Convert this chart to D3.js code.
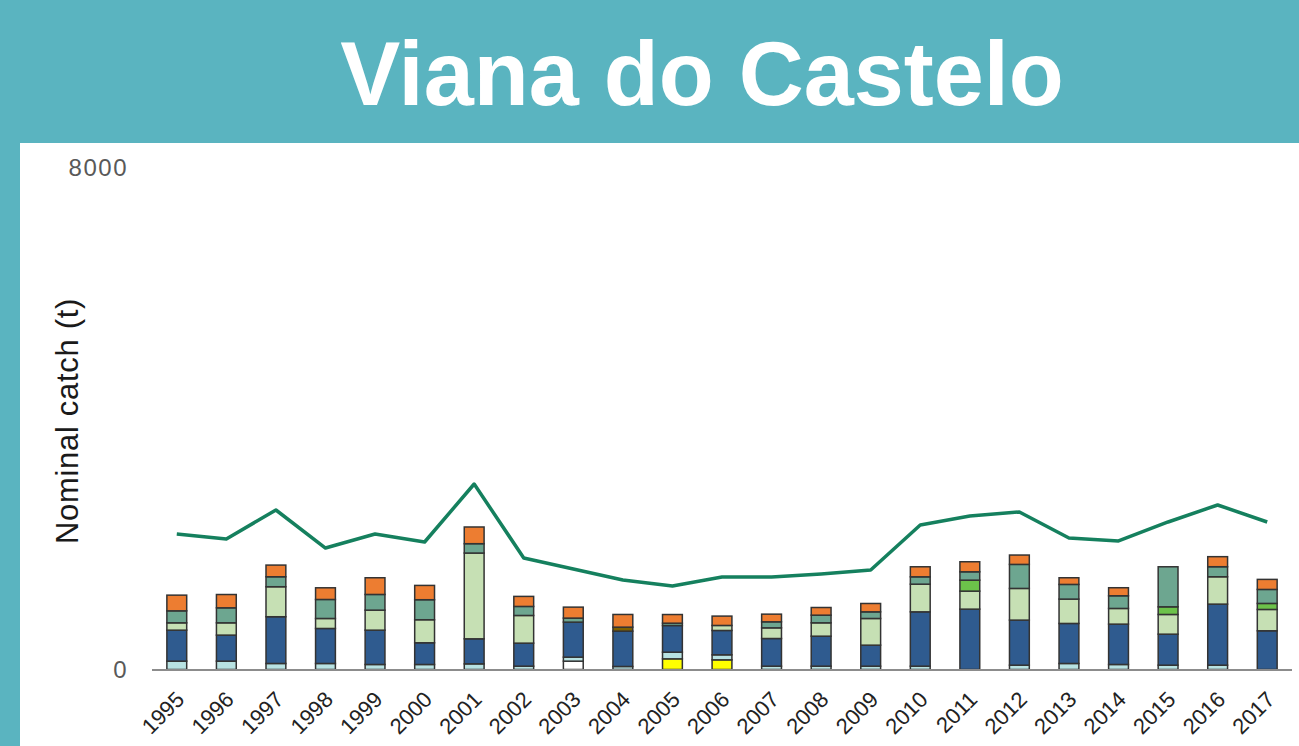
<!DOCTYPE html>
<meta charset="utf-8">
<head>
  <title>Viana do Castelo</title>
  <script src="https://d3js.org/d3.v7.min.js"></script>
  <style>
    body { margin: 0; background: #5ab4c0; overflow: hidden; }
    text { font-family: "Liberation Sans", Arial, sans-serif; }
  </style>
</head>
<body>
<div id="display"></div>
<script>
  // data
  var years = ["1995","1996","1997","1998","1999","2000","2001","2002","2003","2004","2005","2006",
               "2007","2008","2009","2010","2011","2012","2013","2014","2015","2016","2017"];
  var yellow = [0,0,0,0,0,0,0,0,0,0,170,154,0,0,0,0,0,0,0,0,0,0,0];
  var white  = [0,0,0,0,0,0,0,0,133,0,0,0,0,0,0,0,0,0,0,0,0,0,0];
  var cyan   = [133,133,96,96,80,80,90,53,64,48,106,80,53,53,53,53,0,69,96,80,69,69,0];
  var blue   = [494,415,745,558,547,346,399,367,558,563,425,388,441,478,335,866,962,718,638,643,494,973,617];
  var lgreen = [117,196,478,159,319,367,1367,441,0,0,0,80,170,213,425,441,287,505,388,250,314,436,340];
  var bgreen = [0,0,0,0,0,0,0,0,0,0,0,0,0,0,0,0,175,0,0,0,122,0,96];
  var olive  = [0,0,0,0,0,0,0,0,0,64,0,0,0,0,0,0,0,0,0,0,0,0,0];
  var ggreen = [191,239,159,303,250,319,149,144,64,0,37,0,96,122,106,117,133,383,234,202,638,160,223];
  var orange = [250,212,186,186,266,228,266,160,175,202,138,149,122,122,133,160,160,149,106,128,0,160,160];
  var total  = [2159,2080,2542,1936,2159,2032,2956,1777,1602,1426,1331,1474,1474,1522,1586,2303,2446,2510,2096,2048,2351,2622,2351];
  var yTicks = [0, 8000];

  var series = [
    {key: "yellow", values: yellow, color: "#ffff00"},
    {key: "white",  values: white,  color: "#ffffff"},
    {key: "cyan",   values: cyan,   color: "#b8e2e2"},
    {key: "blue",   values: blue,   color: "#2f5b8f"},
    {key: "lgreen", values: lgreen, color: "#c6e0b4"},
    {key: "bgreen", values: bgreen, color: "#6cc24a"},
    {key: "olive",  values: olive,  color: "#7f6000"},
    {key: "ggreen", values: ggreen, color: "#6da690"},
    {key: "orange", values: orange, color: "#ed7d31"}
  ];

  var W = 1299, H = 746;

  var rows = years.map(function(y, i) {
    var r = {year: y};
    series.forEach(function(s) { r[s.key] = s.values[i]; });
    return r;
  });

  var svg = d3.select("#display")
    .append("svg")
      .attr("width", W)
      .attr("height", H);

  // white panel
  svg.append("rect")
    .attr("x", 20).attr("y", 143)
    .attr("width", W - 20).attr("height", H - 143)
    .attr("fill", "#ffffff");

  svg.append("text")
    .attr("x", 702).attr("y", 105)
    .attr("text-anchor", "middle")
    .attr("fill", "#ffffff")
    .style("font-size", "90px")
    .style("font-weight", "bold")
    .text("Viana do Castelo");

  var x = d3.scaleBand()
    .domain(years)
    .range([152, 1292])
    .paddingInner(0.6)
    .paddingOuter(0.3);

  var y = d3.scaleLinear()
    .domain([0, 8000])
    .range([669.5, 167.5]);

  var stacked = d3.stack().keys(series.map(function(s) { return s.key; }))(rows);

  svg.append("g")
    .selectAll("g")
    .data(stacked)
    .enter()
    .append("g")
      .attr("fill", function(d, i) { return series[i].color; })
    .selectAll("rect")
    .data(function(d) { return d.filter(function(p) { return p[1] - p[0] > 0; }); })
    .enter()
    .append("rect")
      .attr("x", function(d) { return x(d.data.year); })
      .attr("y", function(d) { return y(d[1]); })
      .attr("width", x.bandwidth())
      .attr("height", function(d) { return y(d[0]) - y(d[1]); })
      .attr("stroke", "#333333")
      .attr("stroke-width", 1.5);

  // baseline
  svg.append("line")
    .attr("x1", 152).attr("x2", 1292)
    .attr("y1", y(0) + 0.5).attr("y2", y(0) + 0.5)
    .attr("stroke", "#8c8c8c")
    .attr("stroke-width", 2);

  // total line
  svg.append("path")
    .datum(total)
    .attr("fill", "none")
    .attr("stroke", "#15805e")
    .attr("stroke-width", 3.5)
    .attr("stroke-linejoin", "round")
    .attr("d", d3.line()
      .x(function(d, i) { return x(years[i]) + x.bandwidth() / 2; })
      .y(function(d) { return y(d); }));

  // y axis
  var yAxis = svg.append("g")
    .attr("transform", "translate(128,0)")
    .call(d3.axisLeft(y).tickValues(yTicks).tickSize(0).tickPadding(0).tickFormat(d3.format("d")));
  yAxis.select(".domain").remove();
  yAxis.selectAll("text")
    .attr("fill", "#595959")
    .style("font-size", "24px")
    .style("letter-spacing", "1.5px")
    .style("font-family", "'Liberation Sans', Arial, sans-serif");

  svg.append("text")
    .attr("transform", "translate(78,421) rotate(-90)")
    .attr("text-anchor", "middle")
    .attr("fill", "#1a1a1a")
    .style("font-size", "31px")
    .style("letter-spacing", "0.7px")
    .text("Nominal catch (t)");

  // x labels
  svg.append("g")
    .selectAll("text")
    .data(years)
    .enter()
    .append("text")
      .attr("text-anchor", "end")
      .attr("fill", "#222222")
      .style("font-size", "22px")
      .attr("transform", function(d) {
        return "translate(" + (x(d) + x.bandwidth() / 2 - 2) + ",690) rotate(-45)";
      })
      .attr("dy", "0.7em")
      .text(function(d) { return d; });
</script>
</body>
